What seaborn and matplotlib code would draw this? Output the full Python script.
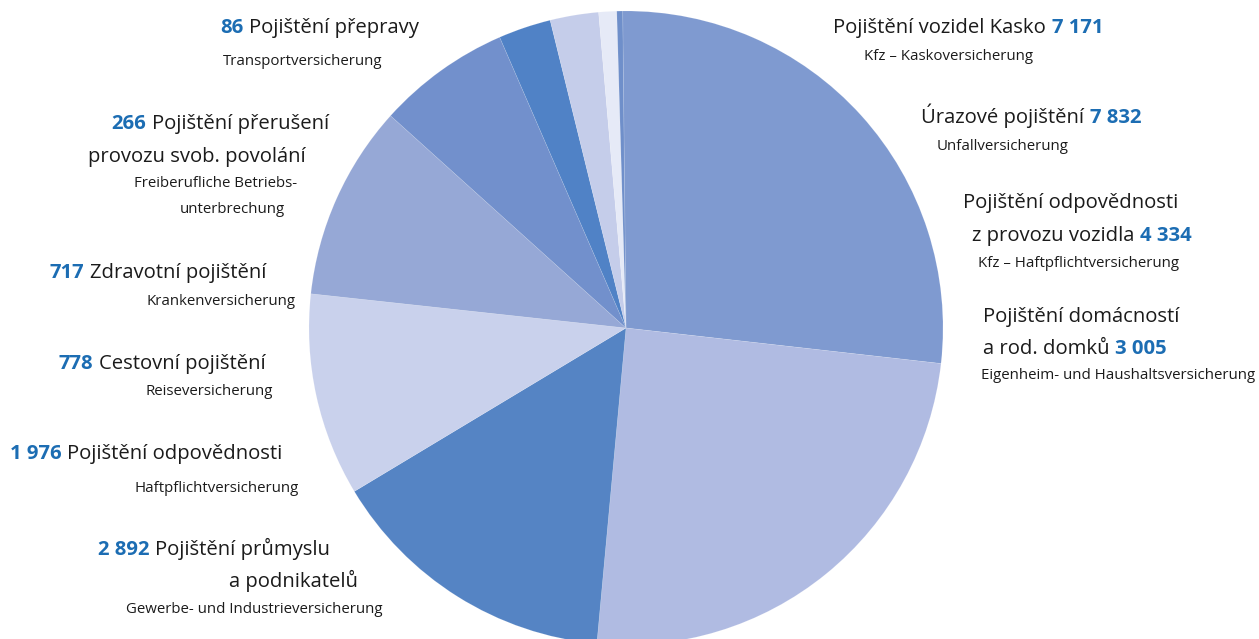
import matplotlib
matplotlib.use("Agg")
import matplotlib.pyplot as plt
import seaborn as sns

# Canvas size in pixels (dpi 100)
W, H = 1259, 639

# Insurance lines, in the order the wedges are drawn (clockwise from the top)
categories = [
    "Úrazové pojištění",
    "Pojištění vozidel Kasko",
    "Pojištění odpovědnosti z provozu vozidla",
    "Pojištění domácností a rod. domků",
    "Pojištění průmyslu a podnikatelů",
    "Pojištění odpovědnosti",
    "Cestovní pojištění",
    "Zdravotní pojištění",
    "Pojištění přerušení provozu svob. povolání",
    "Pojištění přepravy",
]
values = [7832, 7171, 4334, 3005, 2892, 1976, 778, 717, 266, 86]
wedge_hex = [
    "#7f9ad0", "#b0bbe2", "#5584c4", "#c9d1ec", "#96a8d6",
    "#7290cc", "#5082c6", "#c5cdea", "#e6eaf7", "#6f8fca",
]

sns.set_theme(style="white")
plt.rcParams["font.family"] = ["Open Sans", "DejaVu Sans"]

palette = sns.color_palette(wedge_hex)

fig = plt.figure(figsize=(W / 100, H / 100), dpi=100)
ax = fig.add_axes([0, 0, 1, 1])

center_px = (626, 328)
radius_px = 317
ax.pie(
    values,
    colors=palette,
    startangle=90.6,
    counterclock=False,
    center=(center_px[0], H - center_px[1]),
    radius=radius_px,
    wedgeprops=dict(linewidth=0.5, edgecolor=(1, 1, 1, 0.15)),
)
ax.set_xlim(0, W)
ax.set_ylim(0, H)
ax.set_aspect("equal")
ax.axis("off")

BLACK = "#1b1b1b"
BLUE = "#1c6db3"
MAIN_SIZE = 14.6
SUB_SIZE = 10.8


def fmt(v):
    return f"{v:,}".replace(",", " ")


def num(i):
    return (fmt(values[i]), "num")


styles = {
    "main": dict(fontsize=MAIN_SIZE, color=BLACK, fontweight="normal"),
    "num": dict(fontsize=MAIN_SIZE, color=BLUE, fontweight="bold"),
    "sub": dict(fontsize=SUB_SIZE, color=BLACK, fontweight="normal"),
}

# Each line: left edge (px), baseline (px from top), pieces of text
lines = [
    (833, 33, [("Pojištění vozidel Kasko", "main"), num(1)]),
    (864, 60, [("Kfz – Kaskoversicherung", "sub")]),
    (921, 123, [("Úrazové pojištění", "main"), num(0)]),
    (937, 150, [("Unfallversicherung", "sub")]),
    (963, 208, [("Pojištění odpovědnosti", "main")]),
    (972, 241, [("z provozu vozidla", "main"), num(2)]),
    (978, 267, [("Kfz – Haftpflichtversicherung", "sub")]),
    (983, 322, [("Pojištění domácností", "main")]),
    (983, 354, [("a rod. domků", "main"), num(3)]),
    (981, 379, [("Eigenheim- und Haushaltsversicherung", "sub")]),
    (220, 33, [num(9), ("Pojištění přepravy", "main")]),
    (223, 65, [("Transportversicherung", "sub")]),
    (111, 129, [num(8), ("Pojištění přerušení", "main")]),
    (88, 162, [("provozu svob. povolání", "main")]),
    (134, 187, [("Freiberufliche Betriebs-", "sub")]),
    (180, 213, [("unterbrechung", "sub")]),
    (50, 278, [num(7), ("Zdravotní pojištění", "main")]),
    (147, 305, [("Krankenversicherung", "sub")]),
    (59, 369, [num(6), ("Cestovní pojištění", "main")]),
    (146, 395, [("Reiseversicherung", "sub")]),
    (10, 459, [num(5), ("Pojištění odpovědnosti", "main")]),
    (135, 492, [("Haftpflichtversicherung", "sub")]),
    (98, 555, [num(4), ("Pojištění průmyslu", "main")]),
    (229, 587, [("a podnikatelů", "main")]),
    (126, 613, [("Gewerbe- und Industrieversicherung", "sub")]),
]

for x, y, pieces in lines:
    prev = None
    for text, kind in pieces:
        st = styles[kind]
        if prev is None:
            prev = ax.text(x, H - y, text, ha="left", va="baseline", **st)
        else:
            prev = ax.annotate(
                text, xy=(1, 0), xycoords=prev,
                xytext=(4.2, 0), textcoords="offset points",
                ha="left", va="bottom", **st,
            )

fig.savefig("out.png", dpi=100)
